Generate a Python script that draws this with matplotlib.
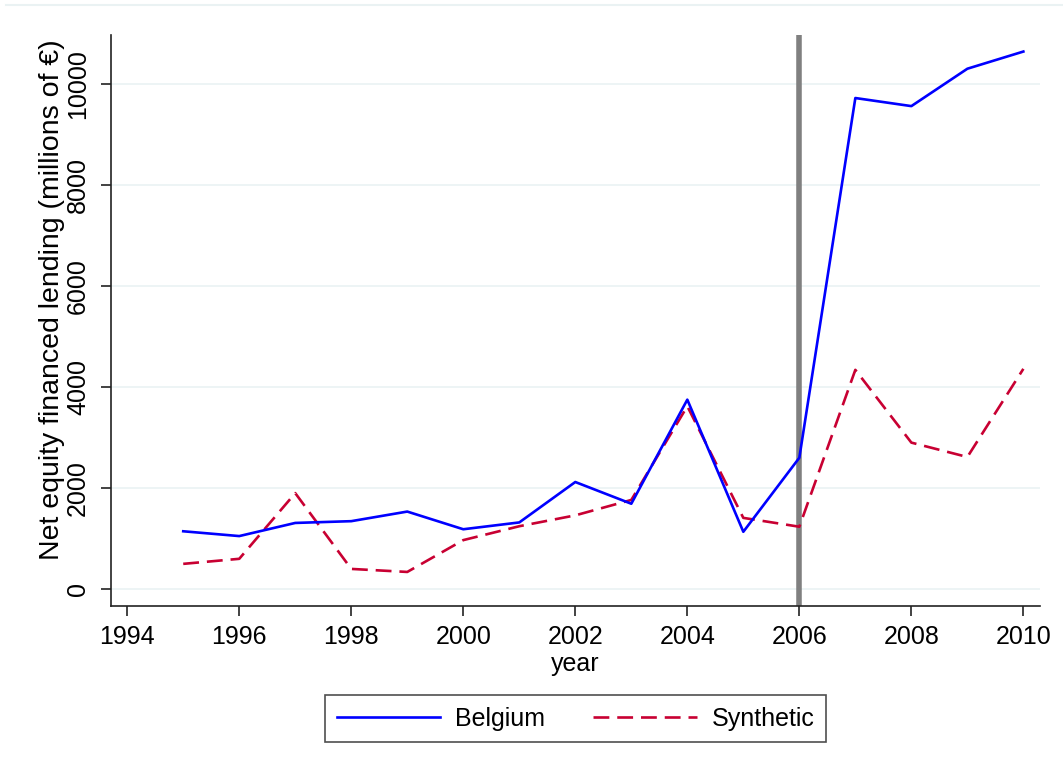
import numpy as np
import matplotlib
matplotlib.use("Agg")
import matplotlib.pyplot as plt
from matplotlib.lines import Line2D

plt.rcParams['font.family'] = ['Liberation Sans', 'DejaVu Sans']

years = [1995, 1996, 1997, 1998, 1999, 2000, 2001, 2002,
         2003, 2004, 2005, 2006, 2007, 2008, 2009, 2010]
belgium = [1145, 1050, 1310, 1345, 1535, 1185, 1320, 2120,
           1690, 3750, 1135, 2600, 9720, 9560, 10300, 10640]
synthetic = [500, 600, 1900, 400, 340, 970, 1245, 1460,
             1765, 3620, 1410, 1235, 4340, 2900, 2615, 4360]
treat_year = 2006
x_ticks = list(range(1994, 2011, 2))
y_ticks = list(range(0, 10001, 2000))

fig = plt.figure(figsize=(10.63, 7.75), dpi=100)
ax = fig.add_axes([0.1044, 0.218, 0.8736, 0.737])

# faint outer frame line at the top (Stata graph region)
fig.add_artist(Line2D([0.006, 1.0], [0.9935, 0.9935], color='#eaf2f3', lw=1.5))

for y in y_ticks:
    ax.axhline(y, color='#eaf2f3', lw=1.2, zorder=0)

ax.axvline(treat_year, color='#808080', lw=4.0, zorder=1)
ax.plot(years, belgium, color='#0000ff', lw=1.9, label='Belgium', zorder=3)
ax.plot(years, synthetic, color='#c80032', lw=1.9, ls=(0, (6, 3)),
        label='Synthetic', zorder=2)

ax.set_xlim(1993.71, 2010.29)
ax.set_ylim(-335, 10970)
ax.set_xticks(x_ticks)
ax.set_yticks(y_ticks)
ax.set_yticklabels([str(v) for v in y_ticks], rotation=90, va='center')
ax.tick_params(axis='both', direction='out', length=7, width=1.2,
               color='#222222')
ax.tick_params(axis='x', labelsize=18, pad=7)
ax.tick_params(axis='y', labelsize=18, pad=8)

for side in ['top', 'right']:
    ax.spines[side].set_visible(False)
for side in ['left', 'bottom']:
    ax.spines[side].set_linewidth(1.2)
    ax.spines[side].set_color('#222222')

ax.set_xlabel('year', fontsize=18)
ax.xaxis.set_label_coords(0.5, -0.08)
ax.set_ylabel('Net equity financed lending (millions of €)', fontsize=20.5)
ax.yaxis.set_label_coords(-0.05, 0.536)

leg = fig.legend(loc='center', bbox_to_anchor=(0.5414, 0.0729), ncol=2,
                 fontsize=18, frameon=True, fancybox=False, handlelength=4.15,
                 columnspacing=1.9, borderpad=0.45, handletextpad=0.6,
                 borderaxespad=0)
leg.get_frame().set_edgecolor('#222222')
leg.get_frame().set_linewidth(1.2)

fig.savefig('out.png', dpi=100)
